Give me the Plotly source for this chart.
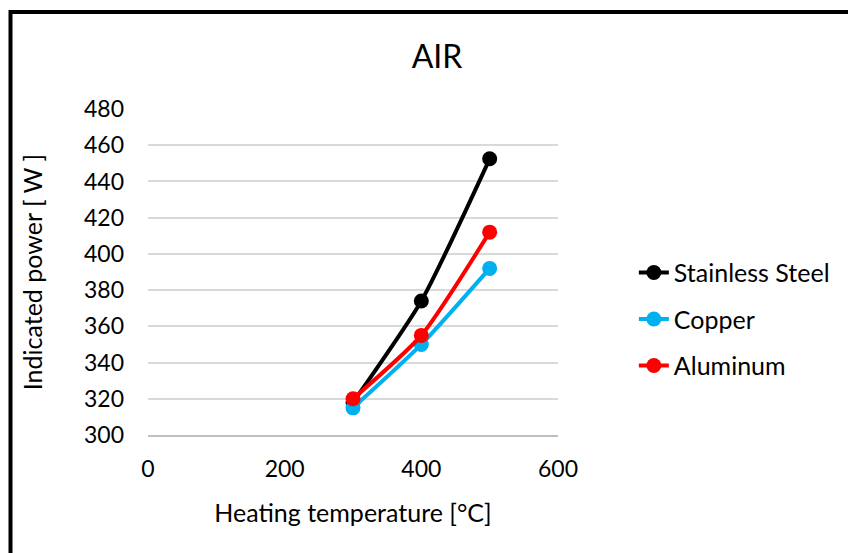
import plotly.graph_objects as go

# Heating temperature [°C] and indicated power [W] per sample material
temperature = [300, 400, 500]
stainless_steel = [318, 374, 452.5]
copper = [315, 350, 392]
aluminum = [320, 355, 412]

series = [
    ("Stainless Steel", stainless_steel, "#000000"),
    ("Copper", copper, "#00B0F0"),
    ("Aluminum", aluminum, "#FF0000"),
]

FONT = "Lato, Calibri, Arial, sans-serif"

fig = go.Figure()
for i, (name, values, color) in enumerate(series):
    fig.add_trace(go.Scatter(
        x=temperature, y=values, name=name, mode="lines+markers",
        line=dict(color=color, width=4, shape="spline", smoothing=0.6),
        marker=dict(color=color, size=15),
        legendgroup=f"g{i}",
    ))

W, H = 848, 553
L, R, T, B = 148, 290, 109, 118

fig.update_layout(
    width=W, height=H,
    margin=dict(l=L, r=R, t=T, b=B),
    paper_bgcolor="white", plot_bgcolor="white",
    font=dict(family=FONT, size=22, color="#000000"),
    title=dict(text="AIR", x=437 / W, xanchor="center", xref="container",
               y=1 - 57 / H, yanchor="middle", font=dict(size=32, color="#000000")),
    showlegend=True,
    legend=dict(x=1.185, xanchor="left", y=0.355, yanchor="middle",
                font=dict(size=25), tracegroupgap=11, traceorder="grouped",
                bgcolor="rgba(0,0,0,0)"),
    xaxis=dict(range=[0, 600], tickvals=[0, 200, 400, 600], showgrid=False,
               showline=True, linecolor="#BFBFBF", linewidth=1.5, zeroline=False,
               ticks="", ticklabelstandoff=13, tickfont=dict(size=23),
               title=dict(text="Heating temperature [°C]", standoff=23, font=dict(size=25))),
    yaxis=dict(range=[300, 480], tickvals=list(range(300, 481, 20)), showgrid=True,
               gridcolor="#D9D9D9", gridwidth=1.5, showline=False, zeroline=False,
               ticks="", ticklabelstandoff=23, tickfont=dict(size=23),
               title=dict(text="Indicated power [ W ]", standoff=34, font=dict(size=25))),
)

# Chart border
fig.add_shape(type="rect", xref="paper", yref="paper",
              x0=(10.5 - L) / (W - L - R), x1=1.9,
              y0=-0.6, y1=(H - B - 12) / (H - T - B),
              line=dict(color="black", width=4), fillcolor="rgba(0,0,0,0)", layer="above")

fig.write_html("out.html")
